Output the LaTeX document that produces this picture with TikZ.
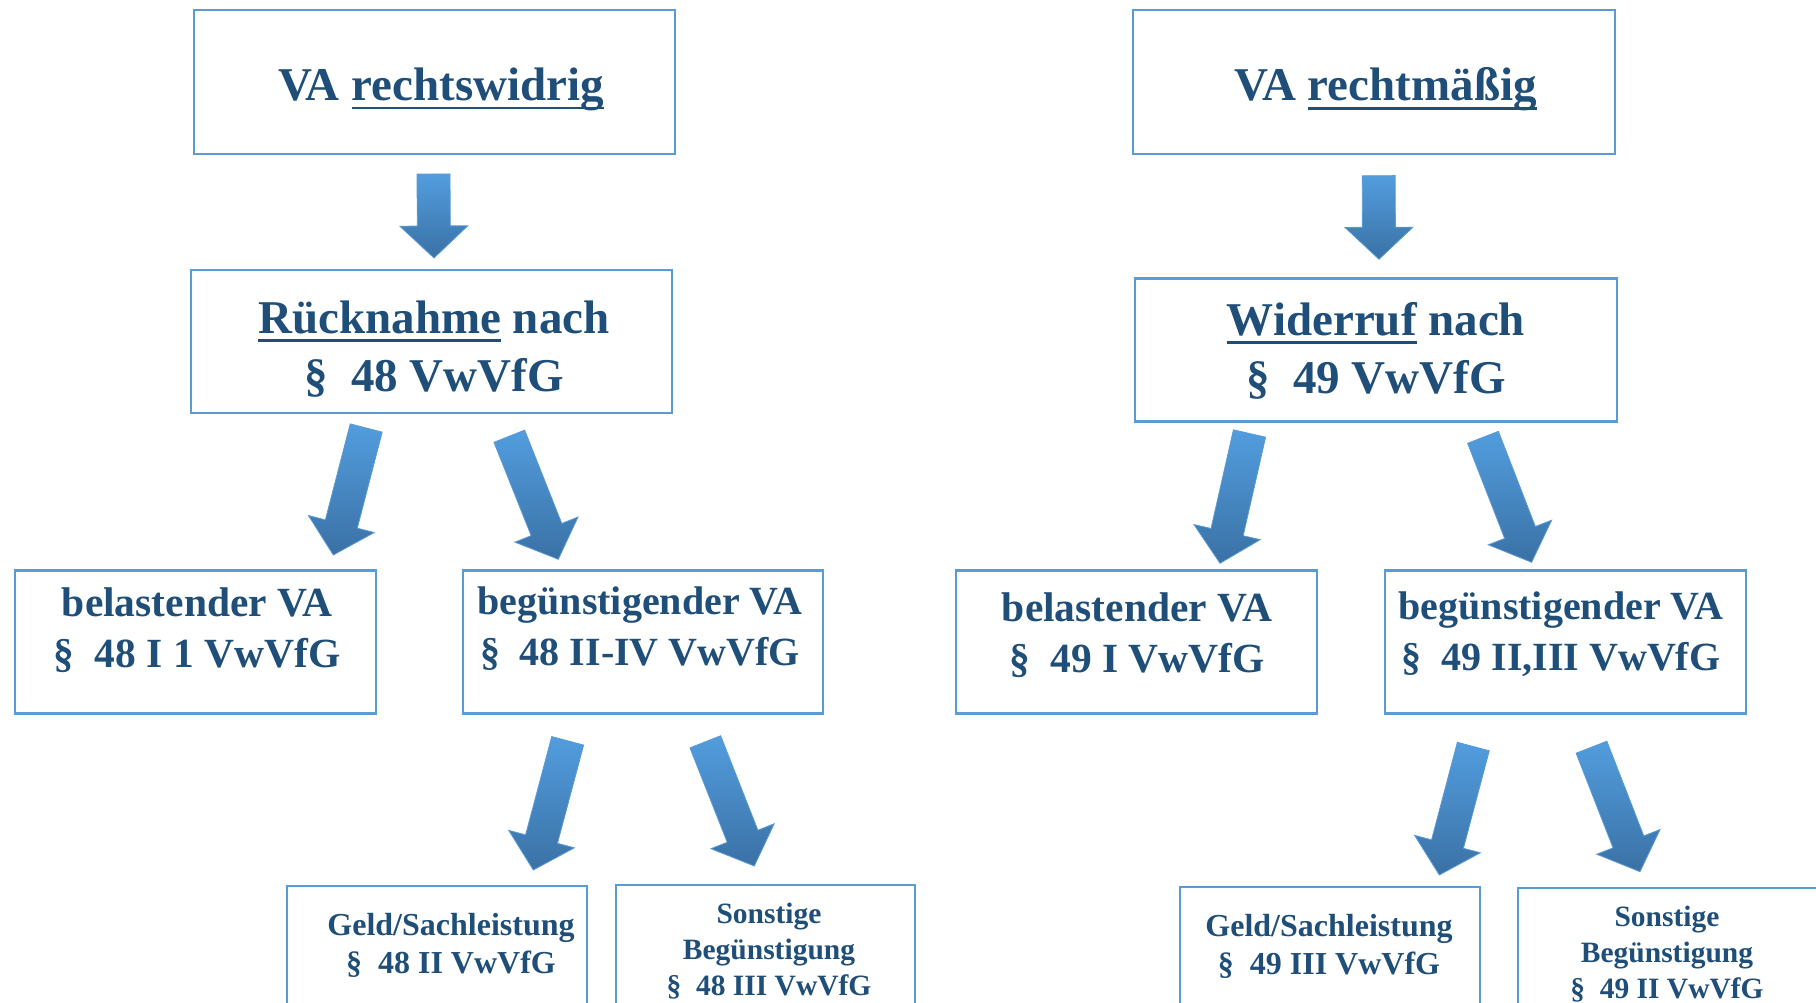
\documentclass[tikz,border=0pt]{standalone}
\usepackage{fontspec}
\setmainfont{Liberation Serif}
\usetikzlibrary{calc}
\definecolor{ink}{HTML}{1F4E79}
\definecolor{frame}{HTML}{5B9BD5}
\definecolor{arrtop}{HTML}{529DDE}
\definecolor{arrbot}{HTML}{3A71A5}
\definecolor{arredge}{HTML}{5B9BD5}
\newcommand\uln[1]{\setbox0=\hbox{#1}\rlap{\rule[-0.19em]{\wd0}{0.06em}}\box0\relax}
\newcommand\barrow[2]{%
 \coordinate (hb) at ($(#2)!32pt!(#1)$);
 \path[arr] ($(#1)!16.5pt!90:(#2)$)--($(hb)!16.5pt!90:(#2)$)--($(hb)!34pt!90:(#2)$)--(#2)
  --($(hb)!34pt!-90:(#2)$)--($(hb)!16.5pt!-90:(#2)$)--($(#1)!16.5pt!-90:(#2)$)--cycle;}
\tikzset{bx/.style={draw=frame,line width=2.75pt,inner sep=0pt},
 arr/.style={top color=arrtop,bottom color=arrbot,draw=arredge,line width=0.8pt},
 thead/.style={text=ink,inner sep=0pt,align=center,font=\bfseries\fontsize{47}{55}\selectfont},
 tlaw/.style={text=ink,inner sep=0pt,align=center,font=\bfseries\fontsize{47}{58}\selectfont},
 tkind/.style={text=ink,inner sep=0pt,align=center,font=\bfseries\fontsize{40}{51}\selectfont},
 tbel/.style={tkind,font=\bfseries\fontsize{41.5}{51}\selectfont},
 tgeld/.style={text=ink,inner sep=0pt,align=center,font=\bfseries\fontsize{32}{38}\selectfont},
 tsonst/.style={text=ink,inner sep=0pt,align=center,font=\bfseries\fontsize{29.5}{36}\selectfont}}

\begin{document}
\begin{tikzpicture}[x=1pt,y=-1pt]
\clip (0,0) rectangle (1816,1003);
% Ruecknahme
\node[bx,minimum width=481,minimum height=144](r1) at (434.5,82){};
\node[thead](r1t) at (441,89.4){VA \uln{rechtswidrig}};
\node[bx,minimum width=481,minimum height=143](r2) at (431.5,341.5){};
\node[tlaw](r2t) at (434,348.8){\uln{Rücknahme} nach\\§\enspace 48 VwVfG};
\node[bx,minimum width=361,minimum height=142.6](r3) at (195.5,642){};
\node[tbel](r3t) at (197,629.8){belastender VA\\§\enspace 48 I 1 VwVfG};
\node[bx,minimum width=360,minimum height=142.6](r4) at (643,642){};
\node[tkind](r4t) at (640,629){begünstigender VA\\§\enspace 48 II-IV VwVfG};
\node[bx,minimum width=300,minimum height=143](r5) at (437,957.5){};
\node[tgeld](r5t) at (451,945.4){Geld/Sachleistung\\§\enspace 48 II VwVfG};
\node[bx,minimum width=299,minimum height=143](r6) at (765.5,956.5){};
\node[tsonst](r6t) at (769,951.2){Sonstige\\Begünstigung\\§\enspace 48 III VwVfG};
% Widerruf
\node[bx,minimum width=482,minimum height=144](l1) at (1374,82){};
\node[thead](l1t) at (1385.5,89.4){VA \uln{rechtmäßig}};
\node[bx,minimum width=482,minimum height=143.7](l2) at (1376,350){};
\node[tlaw](l2t) at (1376,350.6){\uln{Widerruf} nach\\§\enspace 49 VwVfG};
\node[bx,minimum width=361,minimum height=142.6](l3) at (1136.5,642){};
\node[tbel](l3t) at (1137,635.6){belastender VA\\§\enspace 49 I VwVfG};
\node[bx,minimum width=361,minimum height=142.6](l4) at (1565.5,642){};
\node[tkind](l4t) at (1561,634){begünstigender VA\\§\enspace 49 II,III VwVfG};
\node[bx,minimum width=300,minimum height=143](l5) at (1330,958.5){};
\node[tgeld](l5t) at (1329,946){Geld/Sachleistung\\§\enspace 49 III VwVfG};
\node[bx,minimum width=300,minimum height=143](l6) at (1668,959.5){};
\node[tsonst](l6t) at (1667,954){Sonstige\\Begünstigung\\§\enspace 49 II VwVfG};
% block arrows
\coordinate (a1s) at (433.5,174);\coordinate (a1e) at (434,258);
\coordinate (a2s) at (366.2,428);\coordinate (a2e) at (333.3,555);
\coordinate (a3s) at (509.3,436.2);\coordinate (a3e) at (558.3,559.3);
\coordinate (a4s) at (567.7,740.8);\coordinate (a4e) at (533.3,870);
\coordinate (a5s) at (705.3,741.8);\coordinate (a5e) at (754.3,866);
\coordinate (b1s) at (1378.7,175.7);\coordinate (b1e) at (1379,259.3);
\coordinate (b2s) at (1249.5,433.5);\coordinate (b2e) at (1220,563.3);
\coordinate (b3s) at (1483,437.3);\coordinate (b3e) at (1531.6,562.3);
\coordinate (b4s) at (1473.3,746.5);\coordinate (b4e) at (1439.3,875);
\coordinate (b5s) at (1591.5,747.2);\coordinate (b5e) at (1640,871.7);
\foreach \a in {a1,a2,a3,a4,a5,b1,b2,b3,b4,b5}{\barrow{\a s}{\a e}}
\end{tikzpicture}
\end{document}
